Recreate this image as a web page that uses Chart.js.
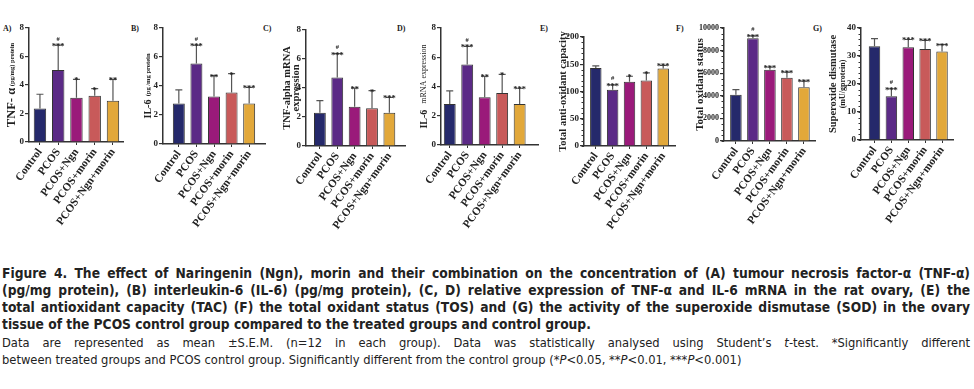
<!DOCTYPE html>
<html>
<head>
<meta charset="utf-8">
<script src="https://cdn.jsdelivr.net/npm/chart.js@4"></script>
<style>
body { margin: 0; background: #fff; width: 974px; height: 389px; overflow: hidden; position: relative; }
.panel { position: absolute; }
.tag { position: absolute; font: bold 8px 'Liberation Serif', serif; color: #222; }
.cap { position: absolute; left: 2px; width: 968px; font-family: 'DejaVu Sans Condensed', sans-serif; font-size: 12.8px; color: #222; white-space: nowrap; line-height: 17px; }
.j { text-align: justify; text-align-last: justify; }
.b { font-weight: bold; font-size: 13.7px; }
</style>
</head>
<body>
<div class="tag" style="left:3px;top:24px">A)</div>
<div class="tag" style="left:131px;top:24px">B)</div>
<div class="tag" style="left:263px;top:24px">C)</div>
<div class="tag" style="left:397px;top:24px">D)</div>
<div class="tag" style="left:540px;top:24px">E)</div>
<div class="tag" style="left:676px;top:24px">F)</div>
<div class="tag" style="left:813px;top:24px">G)</div>

<div class="cap b j" style="top:265px">Figure 4. The effect of Naringenin (Ngn), morin and their combination on the concentration of (A) tumour necrosis factor-α (TNF-α)</div>
<div class="cap b j" style="top:282px">(pg/mg protein), (B) interleukin-6 (IL-6) (pg/mg protein), (C, D) relative expression of TNF-α and IL-6 mRNA in the rat ovary, (E) the</div>
<div class="cap b j" style="top:299px">total antioxidant capacity (TAC) (F) the total oxidant status (TOS) and (G) the activity of the superoxide dismutase (SOD) in the ovary</div>
<div class="cap b" style="top:316px">tissue of the PCOS control group compared to the treated groups and control group.</div>
<div class="cap j" style="top:334px">Data are represented as mean ±S.E.M. (n=12 in each group). Data was statistically analysed using Student’s <i>t</i>-test. *Significantly different</div>
<div class="cap" style="top:351px">between treated groups and PCOS control group. Significantly different from the control group (*<i>P</i>&lt;0.05, **<i>P</i>&lt;0.01, ***<i>P</i>&lt;0.001)</div>

<script>
const groups = ['Control', 'PCOS', 'PCOS+Ngn', 'PCOS+morin', 'PCOS+Ngn+morin'];
const hashMarks = ['', '#', '', '', ''];

const tnfProtein = [2.35, 5.05, 3.1, 3.25, 2.9];
const tnfProteinSem = [1.0, 1.75, 1.3, 0.5, 1.5];
const tnfProteinStars = ['', '***', '*', '*', '**'];

const il6Protein = [2.8, 5.55, 3.27, 3.55, 2.8];
const il6ProteinSem = [0.93, 1.27, 1.45, 1.3, 1.1];
const il6ProteinStars = ['', '***', '**', '*', '***'];

const tnfMrna = [2.3, 4.72, 2.7, 2.6, 2.3];
const tnfMrnaSem = [0.83, 1.65, 1.3, 1.22, 1.05];
const tnfMrnaStars = ['', '***', '**', '*', '***'];

const il6Mrna = [2.8, 5.5, 3.27, 3.55, 2.8];
const il6MrnaSem = [0.9, 1.25, 1.43, 1.28, 1.08];
const il6MrnaStars = ['', '***', '**', '*', '***'];

const tac = [143, 103, 118, 120, 142];
const tacSem = [4, 9, 10, 14, 6];
const tacStars = ['', '***', '*', '*', '***'];

const tos = [4100, 9100, 6300, 5600, 4750];
const tosSem = [450, 200, 250, 500, 550];
const tosStars = ['', '***', '***', '***', '***'];

const sod = [33.5, 15.6, 33.1, 32.5, 31.6];
const sodSem = [2.7, 2.7, 2.8, 3.1, 2.5];
const sodStars = ['', '***', '***', '***', '***'];

const ticks0to8 = [0, 2, 4, 6, 8];
const tacTicks = [0, 50, 100, 150, 200];
const tosTicks = [0, 2000, 4000, 6000, 8000, 10000];
const sodTicks = [0, 10, 20, 30, 40];

const barColors = ['#25296b', '#5b2a86', '#9a1a7a', '#c85a5a', '#e2a83a'];
const serif = "'Liberation Serif', 'Times New Roman', serif";

// geometrie des panneaux (pixels de la page)
const panels = [
	{ values: tnfProtein, sem: tnfProteinSem, stars: tnfProteinStars, ticks: ticks0to8, minor: 0,
		ax: 29, top: 28, bot: 142, right: 123, padL: 0.6, padR: 0.55, tickSize: 9,
		title: [[['TNF- α', 'bold 12.5px'], [' (pg/mg) protein', 'bold 6.5px']]], tx: [-17] },
	{ values: il6Protein, sem: il6ProteinSem, stars: il6ProteinStars, ticks: ticks0to8, minor: 0,
		ax: 163, top: 28, bot: 144, right: 265, padL: 0.9, padR: 0.9, tickSize: 9,
		title: [[['IL-6', 'bold 10px'], ['  (pg /mg protein', 'bold 6.5px']]], tx: [-15] },
	{ values: tnfMrna, sem: tnfMrnaSem, stars: tnfMrnaStars, ticks: ticks0to8, minor: 0,
		ax: 306, top: 30, bot: 146, right: 405, padL: 0.8, padR: 0.9, tickSize: 9,
		title: [[['TNF-alpha mRNA', 'bold 10.5px']], [['expression', 'bold 10.5px']]], tx: [-19, -10] },
	{ values: il6Mrna, sem: il6MrnaSem, stars: il6MrnaStars, ticks: ticks0to8, minor: 0,
		ax: 441, top: 28, bot: 145, right: 538, padL: 0.5, padR: 1.05, tickSize: 9,
		title: [[['IL-6', 'bold 10px'], ['   mRNA expression', '8px']]], tx: [-17] },
	{ values: tac, sem: tacSem, stars: tacStars, ticks: tacTicks, minor: 10,
		ax: 584, top: 37, bot: 146, right: 675, padL: 0.7, padR: 0.7, tickSize: 9,
		title: [[['Total anti-oxidant capacity', 'bold 10.5px']]], tx: [-21] },
	{ values: tos, sem: tosSem, stars: tosStars, ticks: tosTicks, minor: 500,
		ax: 724, top: 28, bot: 141, right: 815, padL: 0.7, padR: 0.65, tickSize: 8,
		title: [[['Total oxidant status', 'bold 11px']]], tx: [-24] },
	{ values: sod, sem: sodSem, stars: sodStars, ticks: sodTicks, minor: 2,
		ax: 861, top: 28, bot: 140, right: 953, padL: 0.8, padR: 0.65, tickSize: 9,
		title: [[['Superoxide dismutase', 'bold 10.5px']], [['(mU/gprotein)', 'bold 8px']]], tx: [-28, -18] }
];

const Y_W = 40, X_H = 85, PAD_T = 25, PAD_R = 10;

// barres d'erreur, etoiles et titres d'axe
const decorPlugin = {
	id: 'decor',
	afterDatasetsDraw(chart) {
		const p = chart.options.plugins.decor;
		const ctx = chart.ctx;
		const ys = chart.scales.y;
		const area = chart.chartArea;
		const meta = chart.getDatasetMeta(0);
		ctx.save();
		// petites graduations
		if (p.minor) {
			ctx.strokeStyle = '#333';
			ctx.lineWidth = 1;
			const max = p.ticks[p.ticks.length - 1];
			for (let v = 0; v <= max; v += p.minor) {
				const y = Math.round(ys.getPixelForValue(v)) + 0.5;
				ctx.beginPath();
				ctx.moveTo(area.left - 2.5, y);
				ctx.lineTo(area.left, y);
				ctx.stroke();
			}
		}
		meta.data.forEach((bar, i) => {
			const yTop = ys.getPixelForValue(p.values[i] + p.sem[i]);
			ctx.strokeStyle = '#555';
			ctx.lineWidth = 1.2;
			ctx.beginPath();
			ctx.moveTo(bar.x, bar.y);
			ctx.lineTo(bar.x, yTop);
			ctx.moveTo(bar.x - 3.5, yTop);
			ctx.lineTo(bar.x + 3.5, yTop);
			ctx.stroke();
			ctx.fillStyle = '#222';
			ctx.textAlign = 'center';
			ctx.textBaseline = 'alphabetic';
			if (p.stars[i]) {
				ctx.font = 'bold 8.5px ' + serif;
				ctx.fillText(p.stars[i], bar.x, yTop + 4);
			}
			if (hashMarks[i]) {
				ctx.font = 'bold 6.5px ' + serif;
				ctx.fillText(hashMarks[i], bar.x, yTop - 4.5);
			}
		});
		// titre de l'axe y
		const mid = (area.top + area.bottom) / 2;
		p.title.forEach((line, li) => {
			let total = 0;
			line.forEach(seg => {
				ctx.font = seg[1] + ' ' + serif;
				total += ctx.measureText(seg[0]).width;
			});
			ctx.save();
			ctx.translate(area.left + p.tx[li], mid);
			ctx.rotate(-Math.PI / 2);
			ctx.textAlign = 'left';
			ctx.textBaseline = 'middle';
			let x = -total / 2;
			line.forEach(seg => {
				ctx.font = seg[1] + ' ' + serif;
				ctx.fillText(seg[0], x, 0);
				x += ctx.measureText(seg[0]).width;
			});
			ctx.restore();
		});
		ctx.restore();
	}
};

panels.forEach((p, n) => {
	const div = document.createElement('div');
	div.className = 'panel';
	const w = p.right - p.ax + Y_W + PAD_R;
	const h = p.bot - p.top + PAD_T + X_H;
	div.style.left = (p.ax - Y_W) + 'px';
	div.style.top = (p.top - PAD_T) + 'px';
	div.style.width = w + 'px';
	div.style.height = h + 'px';
	const canvas = document.createElement('canvas');
	div.appendChild(canvas);
	document.body.appendChild(div);

	new Chart(canvas, {
		type: 'bar',
		data: {
			datasets: [{
				data: p.values.map((v, i) => ({ x: i, y: v })),
				backgroundColor: barColors,
				borderColor: '#333',
				borderWidth: 1,
				barPercentage: 0.68,
				categoryPercentage: 1
			}]
		},
		options: {
			responsive: true,
			maintainAspectRatio: false,
			animation: false,
			layout: { padding: { top: PAD_T, right: PAD_R, left: 0, bottom: 0 } },
			plugins: {
				legend: { display: false },
				tooltip: { enabled: false },
				decor: p
			},
			scales: {
				x: {
					type: 'linear',
					offset: false,
					min: -p.padL,
					max: 4 + p.padR,
					afterBuildTicks: s => { s.ticks = groups.map((g, i) => ({ value: i })); },
					afterFit: s => { s.height = X_H; s.paddingLeft = 0; s.paddingRight = 0; },
					grid: { offset: false, drawOnChartArea: false, drawTicks: true, tickLength: 3, color: '#333', lineWidth: 1 },
					border: { display: true, color: '#333', width: 1.5 },
					ticks: {
						autoSkip: false,
						minRotation: 54,
						maxRotation: 54,
						padding: 1,
						color: '#222',
						font: { family: serif, size: 11.2, weight: 'bold' },
						callback: v => groups[v]
					}
				},
				y: {
					min: 0,
					max: p.ticks[p.ticks.length - 1],
					afterBuildTicks: s => { s.ticks = p.ticks.map(v => ({ value: v })); },
					afterFit: s => { s.width = Y_W; s.paddingTop = 0; s.paddingBottom = 0; },
					grid: { drawOnChartArea: false, drawTicks: true, tickLength: 4, color: '#333', lineWidth: 1.2 },
					border: { display: true, color: '#333', width: 1.5 },
					ticks: {
						padding: 1,
						color: '#222',
						font: { family: serif, size: p.tickSize, weight: 'bold' },
						callback: v => String(v)
					}
				}
			}
		},
		plugins: [decorPlugin]
	});
});
</script>
</body>
</html>
